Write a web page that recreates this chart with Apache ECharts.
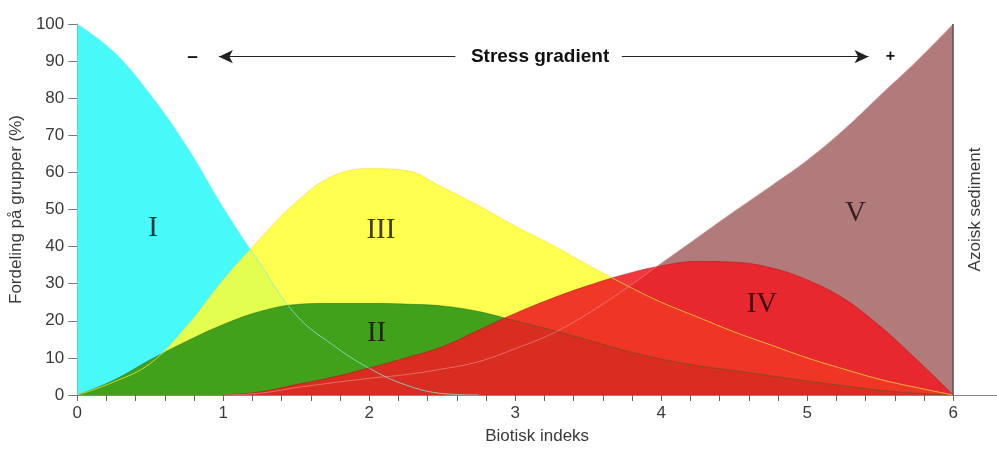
<!DOCTYPE html>
<html>
<head>
<meta charset="UTF-8">
<title>Fordeling på grupper</title>
<script src="https://cdn.jsdelivr.net/npm/echarts@6/dist/echarts.min.js"></script>
<style>
  html, body { margin: 0; padding: 0; background: #fff; }
  #chart { width: 997px; height: 450px; }
</style>
</head>
<body>
<div id="chart"></div>
<script>
// biotisk indeks, steg på 0.25
var xs = [0, 0.25, 0.5, 0.75, 1, 1.25, 1.5, 1.75, 2, 2.25, 2.5, 2.75, 3,
          3.25, 3.5, 3.75, 4, 4.25, 4.5, 4.75, 5, 5.25, 5.5, 5.75, 6];

// fordeling (%) for hver gruppe
var grpI   = [100, 92.5, 81, 67, 50.5, 35.5, 21.5, 13.5, 7.2, 2.7, 0.4, 0,
              null, null, null, null, null, null, null, null, null, null, null, null, null];
var grpII  = [0, 4, 9.5, 14.5, 19, 22.5, 24.4, 24.7, 24.7, 24.5, 24, 22.5, 20,
              17.5, 14.8, 12, 9.7, 7.9, 6.6, 5.2, 3.8, 2.5, 1.3, 0.5, 0];
var grpIII = [0, 3.5, 8.5, 18.5, 31, 42, 52, 59, 61, 60.5, 56, 51, 45.5,
              40.5, 35, 29.8, 25, 21, 17, 13.5, 10, 7, 4.2, 2, 0];
var grpIV  = [null, null, null, null, 0, 0.8, 2.8, 4.8, 7.3, 10, 13, 17.5, 22,
              26, 29.5, 32.5, 34.8, 36, 35.8, 34.3, 31, 26, 18.5, 9.5, 0];
var grpV   = [null, null, null, null, 0, 0.5, 2, 3.3, 4.5, 5.5, 7, 9, 12.5,
              16.5, 22, 28.5, 35.5, 42.5, 49.5, 56.3, 63.3, 71.5, 80.8, 90, 100];

var groupNames = ['I', 'II', 'III', 'IV', 'V'];
var xLabels = [0, 1, 2, 3, 4, 5, 6];
var xTicks = [0, 0.2, 0.4, 0.6, 0.8, 1, 1.2, 1.4, 1.6, 1.8, 2, 2.2, 2.4, 2.6, 2.8, 3,
              3.2, 3.4, 3.6, 3.8, 4, 4.2, 4.4, 4.6, 4.8, 5, 5.2, 5.4, 5.6, 5.8, 6];

function pairs(vals) {
	return xs.map(function(x, i) { return [x, vals[i]]; });
}

var FONT = 'Liberation Sans';
var SERIF = 'Liberation Serif';

function areaSeries(name, vals, color, opacity) {
	return {
		name: name,
		type: 'line',
		smooth: 0.4,
		showSymbol: false,
		z: 2,
		data: pairs(vals),
		lineStyle: { width: 0 },
		areaStyle: { color: color, opacity: opacity }
	};
}

function edgeSeries(name, vals, color, marks) {
	var s = {
		name: name + '-kant',
		type: 'line',
		smooth: 0.4,
		showSymbol: false,
		z: 4,
		data: pairs(vals),
		lineStyle: { width: 1, color: color }
	};
	if (marks) s.markPoint = marks;
	return s;
}

function romanMark(label, x, y) {
	return {
		silent: true,
		symbol: 'circle',
		symbolSize: 1,
		itemStyle: { color: 'rgba(0,0,0,0)' },
		label: {
			show: true, position: 'inside', formatter: label,
			fontFamily: SERIF, fontSize: 29, color: 'rgba(20,10,10,0.8)'
		},
		data: [{ coord: [x, y] }]
	};
}

var myChart = echarts.init(document.getElementById('chart'));

var option = {
	animation: false,
	grid: { left: 77, right: 0, top: 24, bottom: 53 },
	xAxis: [{
		type: 'value', min: 0, max: 6.3,
		axisLine: { lineStyle: { color: '#777', width: 1 } },
		axisTick: { show: true, customValues: xTicks, length: 6, lineStyle: { color: '#666' } },
		axisLabel: { customValues: xLabels, fontFamily: FONT, fontSize: 17, color: '#3a3a3a', margin: 10 },
		splitLine: { show: false },
		name: 'Biotisk indeks', nameLocation: 'middle', nameGap: 33,
		nameTextStyle: { fontFamily: FONT, fontSize: 17, color: '#3a3a3a' }
	}, {
		type: 'value', min: 0, max: 6.3, position: 'top',
		axisLine: { show: true, lineStyle: { color: '#888', width: 1 } },
		axisTick: { show: false }, axisLabel: { show: false }, splitLine: { show: false }
	}],
	yAxis: [{
		type: 'value', min: 0, max: 100, interval: 10,
		axisLine: { show: true, lineStyle: { color: '#777', width: 1 } },
		axisTick: { show: true, length: 9, lineStyle: { color: '#777' } },
		axisLabel: { fontFamily: FONT, fontSize: 17, color: '#3a3a3a', margin: 13 },
		splitLine: { show: false },
		name: 'Fordeling på grupper (%)', nameLocation: 'middle', nameGap: 44,
		nameTextStyle: { fontFamily: FONT, fontSize: 17, color: '#3a3a3a' }
	}, {
		type: 'value', min: 0, max: 100, position: 'right',
		axisLine: { show: false }, axisTick: { show: false }, axisLabel: { show: false },
		splitLine: { show: false },
		name: 'Azoisk sediment', nameLocation: 'middle', nameGap: -30, nameRotate: 90,
		nameTextStyle: { fontFamily: FONT, fontSize: 17, color: '#3a3a3a' }
	}],
	series: [
		areaSeries('V', grpV, '#b27b7b', 1),
		areaSeries('I', grpI, '#48f9f9', 1),
		areaSeries('III', grpIII, '#ffff30', 0.85),
		areaSeries('II', grpII, '#3c9e1a', 0.97),
		areaSeries('IV', grpIV, '#ee1d23', 0.88),

		edgeSeries('I', grpI, 'rgba(130,235,235,0.75)', romanMark(groupNames[0], 0.52, 45)),
		edgeSeries('II', grpII, 'rgba(40,100,20,0.45)', romanMark(groupNames[1], 2.05, 16.5)),
		edgeSeries('III', grpIII, 'rgba(255,225,60,0.75)', romanMark(groupNames[2], 2.08, 44.5)),
		edgeSeries('IV', grpIV, 'rgba(190,20,20,0.6)', romanMark(groupNames[3], 4.69, 24.5)),
		{
			name: 'V-kant',
			type: 'line',
			smooth: 0.4,
			showSymbol: false,
			z: 4,
			data: pairs(grpV),
			lineStyle: { width: 1, color: 'rgba(235,150,150,0.6)' },
			markPoint: {
				silent: true,
				symbol: 'circle',
				symbolSize: 1,
				itemStyle: { color: 'rgba(0,0,0,0)' },
				label: { show: true, position: 'inside', formatter: '{b}', fontFamily: FONT, color: '#111' },
				data: [
					{ name: groupNames[4], coord: [5.33, 49],
					  label: { fontFamily: SERIF, fontSize: 29, color: 'rgba(20,10,10,0.8)' } },
					{ name: 'Stress gradient', coord: [3.17, 91.2],
					  label: { fontSize: 19, fontWeight: 'bold' } },
					{ name: '–', coord: [0.79, 91.2], label: { fontSize: 19, fontWeight: 'bold' } },
					{ name: '+', coord: [5.57, 91.2], label: { fontSize: 16, fontWeight: 'bold' } }
				]
			},
			markLine: {
				silent: true,
				symbol: ['none', 'arrow'],
				symbolSize: [10, 14],
				label: { show: false },
				lineStyle: { color: '#222', width: 1, type: 'solid' },
				data: [
					[{ coord: [2.59, 91.2] }, { coord: [0.97, 91.2] }],
					[{ coord: [3.73, 91.2] }, { coord: [5.42, 91.2] }],
					[{ coord: [6, 0], symbol: 'none' }, { coord: [6, 100], symbol: 'none',
					  lineStyle: { color: '#555', width: 1.5 } }]
				]
			}
		}
	]
};

myChart.setOption(option);
</script>
</body>
</html>
